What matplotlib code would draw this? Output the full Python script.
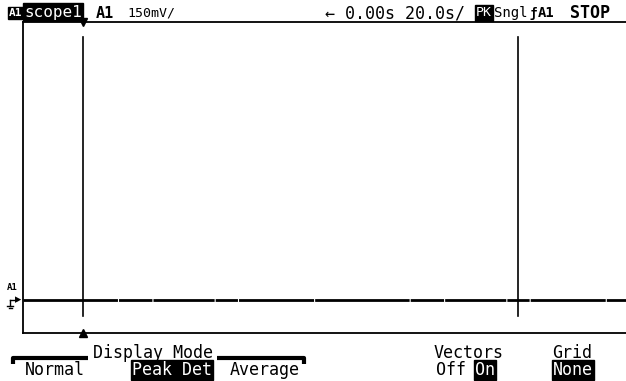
import matplotlib
matplotlib.use("Agg")
import matplotlib.pyplot as plt

# scope settings / readings
time_s = [-20.0, 180.0]          # screen span, 20 s/div, trigger at 0
trace_mv = [0.0, 0.0]            # A1 sits on ground the whole record
cursor_t = [0.0, 144.3]          # two time markers
volts_per_div = 150.0
y_lim = (-127.0, 1073.0)

W, H = 626, 381
fig = plt.figure(figsize=(W / 100, H / 100), dpi=100)
fig.patch.set_facecolor("white")

def px(x, y):
    return x / W, 1 - y / H

ax = fig.add_axes([23 / W, (H - 333) / H, 603 / W, 311 / H])
ax.set_xlim(time_s)
ax.set_ylim(y_lim)
ax.set_xticks([])
ax.set_yticks([])
for s in ["left", "bottom", "top"]:
    ax.spines[s].set_linewidth(1.3)
    ax.spines[s].set_color("black")
ax.spines["right"].set_visible(False)

# trace (peak detect has tiny dropouts)
tr, = ax.plot(time_s, trace_mv, color="black", lw=2.0, solid_capstyle="butt")
tr.set_dashes([34, 0.4, 12, 0.4, 22, 0.4, 8, 0.4, 27, 0.4])

# cursors
for t in cursor_t:
    ax.axvline(t, ymin=17 / 311, ymax=296 / 311, color="black", lw=1.2)

# trigger markers
ax.plot([cursor_t[0]], [y_lim[1]], marker="v", color="black", ms=6, clip_on=False)
ax.plot([cursor_t[0]], [y_lim[0]], marker="^", color="black", ms=6, clip_on=False)

mono = "DejaVu Sans Mono"
fs = 11.5

def label(x, y, s, box=False, bold=False, size=fs, ha="left"):
    kw = dict(family=mono, fontsize=size, ha=ha, va="center",
              fontweight="bold" if bold else "normal")
    if box:
        fig.text(*px(x, y), s, color="white",
                 bbox=dict(facecolor="black", edgecolor="black", pad=0.8), **kw)
    else:
        fig.text(*px(x, y), s, color="black", **kw)

# header
label(9, 13, "A1", box=True, bold=True, size=8)
label(24, 12, "scope1", box=True, size=11.5)
label(96, 13, "A1", bold=True, size=11)
label(127, 13, "150mV/", size=9.5)
label(325, 13, "← 0.00s 20.0s/", size=12)
label(476, 13, "PK", box=True, size=9.5)
label(494, 13, "Sngl", size=10)
label(529, 13, "ƒ", bold=True, size=9)
label(538, 13, "A1", bold=True, size=10)
label(570, 13, "STOP", bold=True, size=12)

# ground reference at left
label(7, 288, "A1", size=6.5, bold=True)
fig.text(*px(15, 300), "▸", family="DejaVu Sans", fontsize=9, ha="left", va="center")
fig.lines.append(plt.Line2D([10 / W, 17 / W], [1 - 300 / H] * 2, color="black", lw=1,
                            transform=fig.transFigure))
fig.lines.append(plt.Line2D([10 / W, 10 / W], [1 - 300 / H, 1 - 306 / H], color="black", lw=1,
                            transform=fig.transFigure))
fig.lines.append(plt.Line2D([7 / W, 13 / W], [1 - 306 / H] * 2, color="black", lw=1,
                            transform=fig.transFigure))
fig.lines.append(plt.Line2D([8.5 / W, 11.5 / W], [1 - 308 / H] * 2, color="black", lw=1,
                            transform=fig.transFigure))

# softkey menu
def fline(xs, ys, lw=3):
    fig.lines.append(plt.Line2D([x / W for x in xs], [1 - y / H for y in ys],
                                color="black", lw=lw, solid_capstyle="butt",
                                transform=fig.transFigure))

fline([13, 13, 88], [364, 358, 358])
fline([217, 304, 304], [358, 358, 364])
label(153, 353, "Display Mode", ha="center", size=12)
label(55, 370, "Normal", ha="center", size=12)
label(172, 370, "Peak Det", box=True, ha="center", size=12)
label(265, 370, "Average", ha="center", size=12)
label(469, 353, "Vectors", ha="center", size=12)
label(436, 370, "Off", size=12)
label(475, 370, "On", box=True, size=12)
label(572, 353, "Grid", ha="center", size=12)
label(573, 370, "None", box=True, ha="center", size=12)

fig.savefig("out.png", dpi=100)
